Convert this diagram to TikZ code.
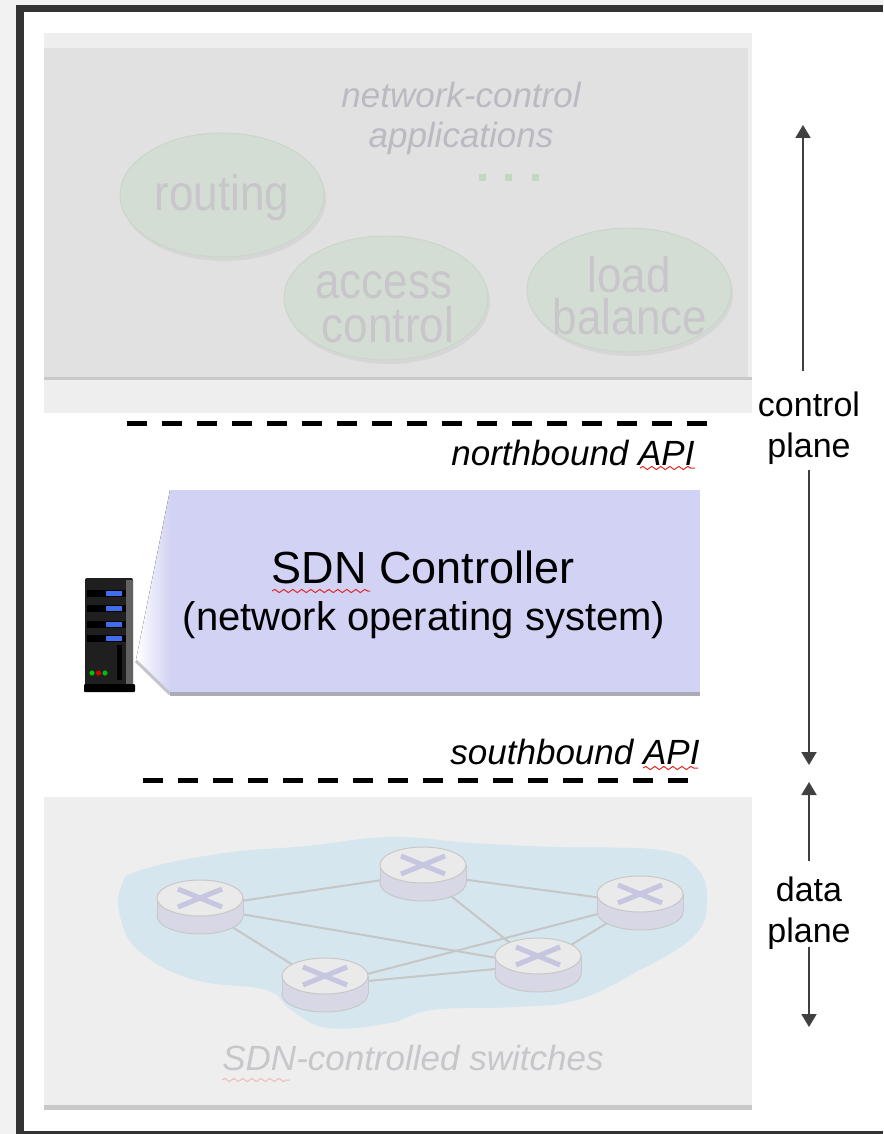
\documentclass[tikz,border=0pt]{standalone}
\usepackage{graphicx}
\usepackage{fontspec}
\setmainfont{Liberation Sans}
\usetikzlibrary{arrows.meta,positioning,shapes.geometric,decorations.pathmorphing}

\definecolor{pageshade}{HTML}{F2F2F2}
\definecolor{framegray}{HTML}{333333}
\definecolor{panelgray}{HTML}{EEEEEE}
\definecolor{appgray}{HTML}{E1E1E1}
\definecolor{rulegray}{HTML}{C9C9C9}
\definecolor{appgreen}{HTML}{D4DDD4}
\definecolor{appedge}{HTML}{CAD6CA}
\definecolor{appshadow}{HTML}{D6D6D6}
\definecolor{fadetext}{HTML}{C8C6CA}
\definecolor{fadeit}{HTML}{BABAC2}
\definecolor{dotgreen}{HTML}{C2D8C2}
\definecolor{ctrlfill}{HTML}{D2D2F4}
\definecolor{ctrlshadow}{HTML}{ABABB6}
\definecolor{cloudblue}{HTML}{D6E6EE}
\definecolor{linkgray}{HTML}{C6C6C6}
\definecolor{swtop}{HTML}{EAEAEA}
\definecolor{swside}{HTML}{D7D7E5}
\definecolor{swedge}{HTML}{C8C8C8}
\definecolor{swcross}{HTML}{C6C6E0}
\definecolor{serverblue}{HTML}{3F6DF0}
\definecolor{spellred}{HTML}{E02828}
\definecolor{spellfade}{HTML}{EDBDBD}

\newcommand{\squeeze}[1]{\scalebox{0.88}[1]{#1}}

% a switch drawn as a flat cylinder around a named coordinate
\newcommand{\switchicon}[1]{%
  \begin{scope}[shift={(#1)}]
    \fill[swside, draw=swedge, line width=1pt] (0,9) ellipse (43 and 18);
    \fill[swside] (-43,-9) rectangle (43,9);
    \draw[swedge, line width=1pt] (-43,-9) -- (-43,9) (43,-9) -- (43,9);
    \fill[swtop, draw=swedge, line width=1pt] (0,-9) ellipse (43 and 18);
    \draw[swcross, line width=5pt] (-22,-18) -- (22,0) (-22,0) -- (22,-18);
  \end{scope}}

\tikzset{
  app/.style={ellipse, fill=appgreen, draw=appedge, line width=1pt,
    minimum width=204, minimum height=124, inner sep=0},
  apptext/.style={anchor=base, inner sep=0, text=fadetext,
    font=\fontsize{50}{50}\selectfont},
  apiline/.style={line width=5pt, dash pattern=on 20pt off 15pt},
  api/.style={anchor=base, inner sep=0, font=\fontsize{35}{40}\selectfont\itshape},
  plane/.style={inner sep=0, align=center, font=\fontsize{34}{41}\selectfont},
  arr/.style={line width=2pt, black!75, -{Triangle[width=15pt,length=13pt]}},
  link/.style={linkgray, line width=2pt},
  squiggle/.style={spellred, line width=1pt, decorate,
    decoration={snake, amplitude=1.6, segment length=9}},
}

\begin{document}
\begin{tikzpicture}[x=1pt,y=-1pt]
\useasboundingbox (0,0) rectangle (883,1134);

% page and frame
\fill[pageshade] (0,0) rectangle (883,1134);
\fill[white] (24,12) rectangle (883,1131);
\fill[framegray] (16,5) rectangle (883,12);
\fill[framegray] (16,5) rectangle (24,1134);
\fill[framegray] (16,1131) rectangle (883,1134);

% network-control applications
\fill[panelgray] (44,33) rectangle (752,413);
\fill[appgray] (44,48) rectangle (748,377);
\fill[rulegray] (44,377) rectangle (752,380);
\node[plane, text=fadeit, font=\fontsize{35}{40}\selectfont\itshape] (nca) at (461,118)
  {network-control\\applications};
\foreach \c in {(224,199),(388,302),(631,294)}
  \fill[appshadow] \c ellipse (102 and 62);
\node[app] (routing) at (222,195) {};
\node[app] (access) at (386,298) {};
\node[app] (balance) at (629,290) {};
\node[apptext] (routingtext) at (222,211) {\squeeze{routing}};
\node[apptext] (accesstext) at (384,298) {\squeeze{access}};
\node[apptext] (controltext) at (388,342) {\squeeze{control}};
\node[apptext] (loadtext) at (629,292) {\squeeze{load}};
\node[apptext] (balancetext) at (630,334) {\squeeze{balance}};
\foreach \x in {482,508,535}
  \fill[dotgreen] (\x-3.5,174.5) rectangle ++(7,7);

% northbound interface
\coordinate (nbl) at (127,423);
\coordinate (nbr) at (712,423);
\draw[apiline] (nbl) -- (nbr);
\node[api] (nb) at (573,465) {northbound API};
\draw[squiggle] (640,468) -- (695,468);

% controller and its server
\coordinate (srv) at (84,578);
\fill[left color=white, right color=ctrlfill] (170,490) -- (136,660) -- (170,694) -- cycle;
\draw[ctrlshadow!70, line width=3pt] (136,661) -- (170,694);
\node[rectangle, fill=ctrlfill, minimum width=530, minimum height=202, inner sep=0]
  (ctrl) at (435,591) {};
\fill[ctrlshadow] (ctrl.south west) rectangle ([yshift=-4pt]ctrl.south east);
\node[anchor=base, inner sep=0, font=\fontsize{45}{50}\selectfont] (ctrlname) at (423,583)
  {SDN Controller};
\node[anchor=base, inner sep=0, font=\fontsize{40}{46}\selectfont] (ctrlos) at (424,630)
  {(network operating system)};
\draw[squiggle] (272,591) -- (370,591);

\begin{scope}[shift={(srv)}]
  \fill[black!88, rounded corners=2pt] (1,0) rectangle (49,108);
  \fill[black!62] (42,2) rectangle (49,106);
  \foreach \y in {15,30,46,60} {
    \fill[black] (3,\y-3.5) rectangle (42,\y+3.5);
    \fill[serverblue] (22,\y-2.5) rectangle (38,\y+2.5);
  }
  \fill[black] (33,67) rectangle (38,102);
  \fill[green!75!black] (8,95) circle (2.6);
  \fill[red!85!black] (14.5,95) circle (2.6);
  \fill[green!75!black] (21,95) circle (2.6);
  \fill[black, rounded corners=1pt] (0,106) rectangle (51,114);
\end{scope}

% southbound interface
\node[api] (sb) at (575,764) {southbound API};
\draw[squiggle] (643,768) -- (698,768);
\coordinate (sbl) at (143,780);
\coordinate (sbr) at (692,780);
\draw[apiline] (sbl) -- (sbr);

% data plane switches
\fill[panelgray] (44,797) rectangle (752,1110);
\fill[rulegray] (44,1105) rectangle (752,1110);
\fill[cloudblue] plot[smooth cycle, tension=0.7] coordinates {
  (121,887) (141,870) (224,853) (307,846) (390,837) (473,843) (556,847)
  (660,850) (697,868) (707,903) (693,937) (640,970) (577,1000) (515,1007)
  (432,1010) (390,1023) (328,1028) (291,1010) (266,990) (195,980) (141,953)
  (121,920)};

\coordinate (s1) at (200,907);
\coordinate (s2) at (423,874);
\coordinate (s3) at (640,903);
\coordinate (s4) at (325,985);
\coordinate (s5) at (538,965);
\foreach \a/\b in {s1/s2, s2/s3, s1/s5, s1/s4, s2/s5, s4/s3, s4/s5, s5/s3}
  \draw[link] (\a) -- (\b);
\foreach \s in {s1,s2,s3,s4,s5}
  \switchicon{\s};

\node[api, text=fadetext] (sw) at (413,1070) {SDN-controlled switches};
\draw[squiggle, spellfade] (222,1080) -- (290,1080);

% plane labels and extents
\node[plane] (cp) at (809,428) {control\\plane};
\node[plane] (dp) at (809,913) {data\\plane};
\coordinate (cptop) at (803,125);
\coordinate (cpbot) at (809,765);
\coordinate (dptop) at (809,782);
\coordinate (dpbot) at (809,1027);
\draw[arr] ([yshift=20pt]cp.north -| cptop) -- (cptop);
\draw[arr] ([yshift=-5pt]cp.south) -- (cpbot);
\draw[arr] ([yshift=15pt]dp.north) -- (dptop);
\draw[arr] ([yshift=3pt]dp.south) -- (dpbot);
\end{tikzpicture}
\end{document}
